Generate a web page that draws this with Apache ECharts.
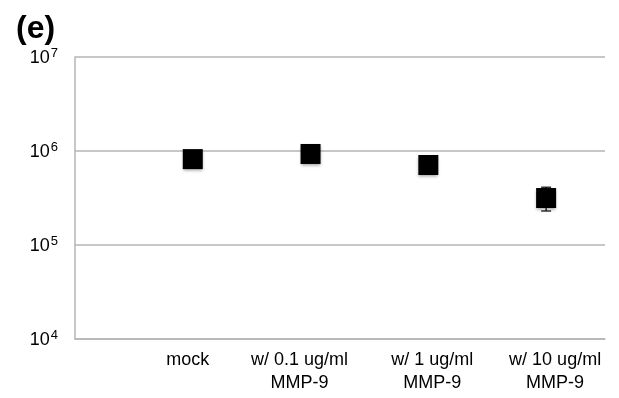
<!DOCTYPE html>
<html>
<head>
<meta charset="utf-8">
<script src="https://cdn.jsdelivr.net/npm/echarts@6/dist/echarts.min.js"></script>
<style>
  html, body { margin: 0; padding: 0; background: #fff; }
  #chart { width: 619px; height: 398px; }
</style>
</head>
<body>
<div id="chart"></div>
<script>
// Category labels, one per x position (1..4)
const categories = ['mock', 'w/ 0.1 ug/ml\nMMP-9', 'w/ 1 ug/ml\nMMP-9', 'w/ 10 ug/ml\nMMP-9'];
const xPositions = [1, 2, 3, 4];

const means = [820000, 930000, 710000, 316000];
const errHigh = [860000, 975000, 745000, 412000];
const errLow = [785000, 890000, 675000, 230000];

const yTicks = [10000, 100000, 1000000, 10000000];

const chart = echarts.init(document.getElementById('chart'));

const FONT = 'Liberation Sans, Arial, sans-serif';

// the original's wrapped labels sit a little off their points
const labelNudge = [-5, -11, 4, 9];
const labelRich = {};
labelNudge.forEach((d, i) => {
  labelRich['c' + i] = {
    fontFamily: FONT,
    fontSize: 18,
    color: '#000',
    lineHeight: 23,
    padding: d < 0 ? [0, -2 * d, 0, 0] : [0, 0, 0, 2 * d]
  };
});

const option = {
  animation: false,
  title: {
    text: '(e)',
    left: 11,
    top: 8,
    textStyle: { fontFamily: FONT, fontSize: 32, fontWeight: 'bold', color: '#000' }
  },
  grid: { left: 75, right: 14, top: 57, bottom: 59, containLabel: false },
  xAxis: {
    type: 'value',
    min: 0,
    max: 4.5,
    interval: 1,
    splitLine: { show: false },
    axisTick: { show: false },
    axisLine: { lineStyle: { color: '#b5b5b5', width: 1.5 } },
    axisLabel: {
      showMaxLabel: false,
      margin: 10,
      lineHeight: 23,
      fontFamily: FONT,
      fontSize: 18,
      color: '#000',
      rich: labelRich,
      formatter: (v) => {
        const i = xPositions.indexOf(v);
        if (i < 0) return '';
        return categories[i].split('\n').map((s) => '{c' + i + '|' + s + '}').join('\n');
      }
    }
  },
  yAxis: {
    type: 'log',
    min: yTicks[0],
    max: yTicks[yTicks.length - 1],
    logBase: 10,
    axisTick: { show: false },
    axisLine: { show: true, lineStyle: { color: '#b5b5b5', width: 1.5 } },
    splitLine: { lineStyle: { color: '#b5b5b5', width: 1.5 } },
    axisLabel: {
      margin: 17,
      formatter: (v) => '{b|10}{s|' + Math.round(Math.log10(v)) + '}',
      rich: {
        b: { fontFamily: FONT, fontSize: 18, color: '#000', verticalAlign: 'bottom', lineHeight: 20, padding: [10, 0, 0, 0] },
        s: { fontFamily: FONT, fontSize: 13, color: '#000', verticalAlign: 'top', padding: [0, 0, 8, 1], lineHeight: 14 }
      }
    }
  },
  series: [
    {
      type: 'custom',
      z: 1,
      data: xPositions.map((x, i) => [x, errLow[i], errHigh[i]]),
      renderItem: (params, api) => {
        const x = api.value(0);
        const lo = api.coord([x, api.value(1)]);
        const hi = api.coord([x, api.value(2)]);
        const hw = 5;
        const style = { stroke: '#000', lineWidth: 1.2 };
        return {
          type: 'group',
          children: [
            { type: 'line', shape: { x1: lo[0], y1: lo[1], x2: hi[0], y2: hi[1] }, style },
            { type: 'line', shape: { x1: lo[0] - hw, y1: lo[1], x2: lo[0] + hw, y2: lo[1] }, style },
            { type: 'line', shape: { x1: hi[0] - hw, y1: hi[1], x2: hi[0] + hw, y2: hi[1] }, style }
          ]
        };
      }
    },
    {
      type: 'scatter',
      z: 2,
      symbol: 'rect',
      symbolSize: 20,
      data: xPositions.map((x, i) => [x, means[i]]),
      itemStyle: {
        color: '#000',
        opacity: 1,
        shadowBlur: 3,
        shadowOffsetY: 2,
        shadowColor: 'rgba(0,0,0,0.35)'
      }
    }
  ]
};

chart.setOption(option);
</script>
</body>
</html>
